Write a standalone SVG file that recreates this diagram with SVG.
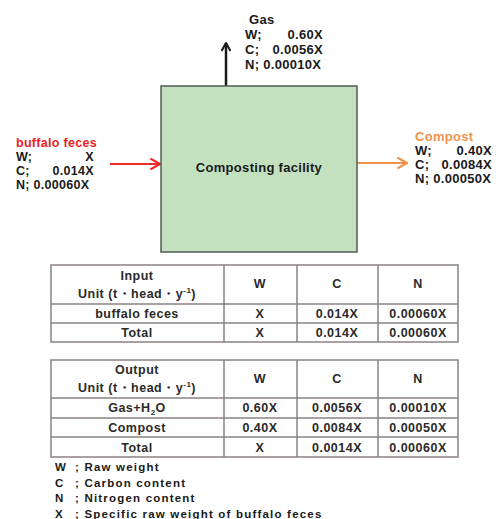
<svg xmlns="http://www.w3.org/2000/svg" width="499" height="519" viewBox="0 0 499 519">
<style>
text{font-family:"Liberation Sans",Arial,sans-serif;font-weight:bold;}
.lbl{font-size:13px;fill:#1a1a1a;letter-spacing:0.3px;}
.sm{font-size:12.5px;}
.red{fill:#ee1c24;}
.org{fill:#f0914a;}
.tb{font-size:12.5px;fill:#2a2a2a;letter-spacing:0.5px;text-anchor:middle;}
.grid{fill:none;stroke:#8c8282;stroke-width:1.5;}
.leg{font-size:11.5px;fill:#1a1a1a;letter-spacing:1.2px;}
</style>
<defs>
<marker id="ahK" viewBox="0 0 10 10" refX="9" refY="5" markerWidth="10" markerHeight="10" markerUnits="userSpaceOnUse" orient="auto"><path d="M1,0.5 L9,5 L1,9.5" fill="none" stroke="#1a1a1a" stroke-width="2"/></marker>
<marker id="ahR" viewBox="0 0 10 10" refX="9" refY="5" markerWidth="12" markerHeight="12" markerUnits="userSpaceOnUse" orient="auto"><path d="M1,0.5 L9,5 L1,9.5" fill="none" stroke="#ee2a2a" stroke-width="1.8"/></marker>
<marker id="ahO" viewBox="0 0 10 10" refX="9" refY="5" markerWidth="12" markerHeight="12" markerUnits="userSpaceOnUse" orient="auto"><path d="M1,0.5 L9,5 L1,9.5" fill="none" stroke="#f0914a" stroke-width="1.8"/></marker>
</defs>
<rect width="499" height="519" fill="#ffffff"/>

<g id="connectors">
<line x1="226" y1="86" x2="226" y2="43" stroke="#1a1a1a" stroke-width="2.5" marker-end="url(#ahK)"/>
<line x1="110" y1="164" x2="160" y2="164" stroke="#ee2a2a" stroke-width="2" marker-end="url(#ahR)"/>
<line x1="357" y1="163" x2="407" y2="163" stroke="#f0914a" stroke-width="2" marker-end="url(#ahO)"/>
</g>

<g id="facility">
<rect x="161" y="86" width="196" height="166" fill="#c3e1bf" stroke="#555b55" stroke-width="1.5"/>
<text class="lbl" x="259" y="172" text-anchor="middle" font-size="13.5">Composting facility</text>
</g>

<g id="gas">
<text class="lbl" x="249" y="24">Gas</text>
<text class="lbl" x="245" y="39">W;</text><text class="lbl" x="323" y="39" text-anchor="end">0.60X</text>
<text class="lbl" x="245" y="54">C;</text><text class="lbl" x="323" y="54" text-anchor="end">0.0056X</text>
<text class="lbl" x="245" y="69">N; 0.00010X</text>
</g>

<g id="feces">
<text class="lbl sm red" x="16" y="147">buffalo feces</text>
<text class="lbl sm" x="16" y="161">W;</text><text class="lbl sm" x="94" y="161" text-anchor="end">X</text>
<text class="lbl sm" x="16" y="175">C;</text><text class="lbl sm" x="94" y="175" text-anchor="end">0.014X</text>
<text class="lbl sm" x="16" y="189">N; 0.00060X</text>
</g>

<g id="compost">
<text class="lbl org" x="415" y="141">Compost</text>
<text class="lbl" x="415" y="155">W;</text><text class="lbl" x="492" y="155" text-anchor="end">0.40X</text>
<text class="lbl" x="415" y="169">C;</text><text class="lbl" x="492" y="169" text-anchor="end">0.0084X</text>
<text class="lbl" x="415" y="183">N; 0.00050X</text>
</g>

<g id="input-table">
<rect class="grid" x="51" y="265" width="407" height="77"/>
<path class="grid" d="M51,304H458M51,323H458M224,265V342M297,265V342M378,265V342"/>
<text class="tb" x="137" y="280">Input</text>
<text class="tb" x="137" y="298">Unit (t・head・y<tspan font-size="8" dy="-5">-1</tspan><tspan dy="5">)</tspan></text>
<text class="tb" x="260" y="288">W</text>
<text class="tb" x="337" y="288">C</text>
<text class="tb" x="418" y="288">N</text>
<text class="tb" x="137" y="318">buffalo feces</text>
<text class="tb" x="260" y="318">X</text>
<text class="tb" x="337" y="318">0.014X</text>
<text class="tb" x="418" y="318">0.00060X</text>
<text class="tb" x="137" y="337">Total</text>
<text class="tb" x="260" y="337">X</text>
<text class="tb" x="337" y="337">0.014X</text>
<text class="tb" x="418" y="337">0.00060X</text>
</g>

<g id="output-table">
<rect class="grid" x="51" y="360" width="407" height="97"/>
<path class="grid" d="M51,398H458M51,418H458M51,437H458M224,360V457M297,360V457M378,360V457"/>
<text class="tb" x="137" y="374">Output</text>
<text class="tb" x="137" y="392">Unit (t・head・y<tspan font-size="8" dy="-5">-1</tspan><tspan dy="5">)</tspan></text>
<text class="tb" x="260" y="383">W</text>
<text class="tb" x="337" y="383">C</text>
<text class="tb" x="418" y="383">N</text>
<text class="tb" x="137" y="412">Gas+H<tspan font-size="8" dy="3">2</tspan><tspan dy="-3">O</tspan></text>
<text class="tb" x="260" y="412">0.60X</text>
<text class="tb" x="337" y="412">0.0056X</text>
<text class="tb" x="418" y="412">0.00010X</text>
<text class="tb" x="137" y="432">Compost</text>
<text class="tb" x="260" y="432">0.40X</text>
<text class="tb" x="337" y="432">0.0084X</text>
<text class="tb" x="418" y="432">0.00050X</text>
<text class="tb" x="137" y="452">Total</text>
<text class="tb" x="260" y="452">X</text>
<text class="tb" x="337" y="452">0.0014X</text>
<text class="tb" x="418" y="452">0.00060X</text>
</g>

<g id="legend">
<text class="leg" x="55" y="471">W</text><text class="leg" x="75" y="471">; Raw weight</text>
<text class="leg" x="55" y="487">C</text><text class="leg" x="75" y="487">; Carbon content</text>
<text class="leg" x="55" y="502">N</text><text class="leg" x="75" y="502">; Nitrogen content</text>
<text class="leg" x="55" y="518">X</text><text class="leg" x="75" y="518">; Specific raw weight of buffalo feces</text>
</g>
</svg>
